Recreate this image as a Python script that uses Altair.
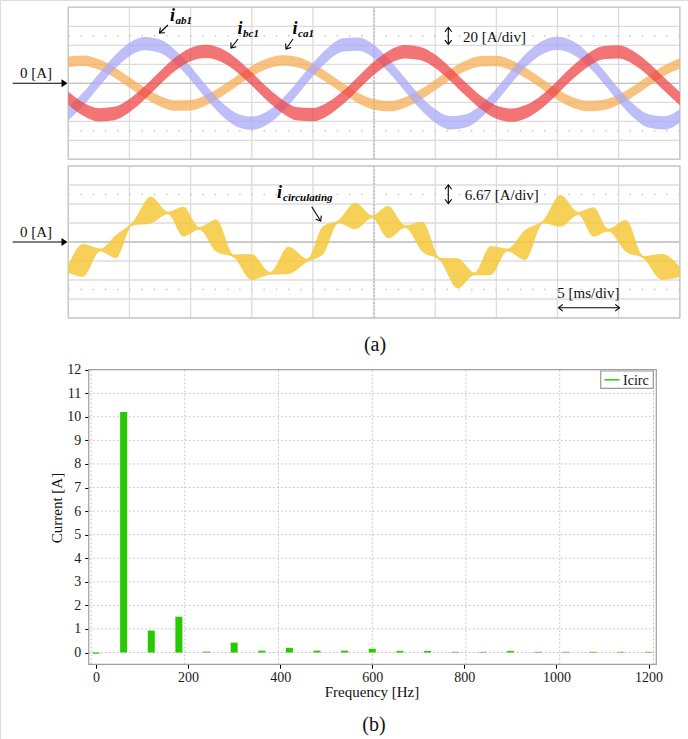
import altair as alt
import pandas as pd

# ---------------- (a) upper scope trace : 5 ms/div, 20 A/div ----------------
t_phase = [0, 1.25, 2.5, 3.75, 5, 6.25, 7.5, 8.75, 10, 11.25, 12.5, 13.75, 15, 16.25,
           17.5, 18.75, 20, 21.25, 22.5, 23.75, 25, 26.25, 27.5, 28.75, 30, 31.25, 32.5,
           33.75, 35, 36.25, 37.5, 38.75, 40, 41.25, 42.5, 43.75, 45, 46.25, 47.5, 48.75, 50]
i_ab1 = [-32, -16.2, 3, 21.6, 35.6, 41.8, 39, 27.8, 10.8, -8.8, -26.4, -38.4, -42, -36.6,
         -23.2, -5, 14.4, 30.8, 40.4, 41.2, 33.2, 17.8, -1, -19.8, -34.4, -41.6, -39.6,
         -29.2, -12.4, 7.2, 25.2, 37.6, 42, 37.4, 25, 7, -12.6, -29.4, -39.8, -41.6, -34.4]
i_bc1 = [-15.8, -27.4, -33.2, -31.8, -23.4, -9.8, 5.8, 20.2, 30.2, 33.6, 29.6, 19.2, 4.6,
         -11, -24.2, -32.2, -33, -26.8, -14.6, 0.8, 16, 27.6, 33.2, 31.6, 23.2, 9.4, -6.2,
         -20.4, -30.4, -33.6, -29.4, -19, -4.2, 11.4, 24.4, 32.2, 33, 26.6, 14.2, -1.2, -16.2]
i_ca1 = [22.6, 23.8, 19.8, 11.6, 0.8, -10, -18.8, -23.4, -23.2, -17.8, -8.8, 2.2, 12.8,
         20.6, 24, 22.2, 15.4, 5.4, -5.6, -15.8, -22.4, -24, -20.4, -12.4, -1.8, 9.2, 18.4,
         23.2, 23.4, 18.8, 10.2, -0.8, -11.8, -20.2, -23.8, -22.8, -17.2, -8, 3, 13.4, 21]
ripple_ab1 = 7.0   # half width of the switching-ripple band [A]
ripple_bc1 = 7.0
ripple_ca1 = 5.5

# ---------------- (a) lower scope trace : 5 ms/div, 6.67 A/div ----------------
t_circ = [0, 1.2, 2.6, 3.9, 5.25, 6.75, 8.15, 9.4, 10.7, 12.1, 13.55, 15.0, 16.5, 18.0,
          19.55, 20.8, 22.1, 23.45, 24.85, 26.15, 27.55, 28.95, 30.4, 31.85, 33.2, 34.55,
          35.9, 37.35, 38.85, 40.25, 41.7, 42.95, 44.15, 45.6, 47.05, 48.55, 50.0]
i_circ_hi = [-8.1, -0.7, -2.3, 2.5, 6.9, 15.9, 10.7, 12.4, 5.3, 7.9, -4.4, -4.2, -10.5,
             -1.7, -5.8, 5.4, 7.7, 13.8, 9.4, 12.6, 5.9, 7.1, -5.5, -5.7, -10.7, -1.4,
             -2.3, 4.2, 7.7, 16.5, 10.6, 12.2, 4.7, 7.7, -4.9, -4.2, -8.7]
i_circ_lo = [-10.9, -12.2, -3.3, -5.6, 5.8, 6.5, 9.7, 1.9, 4.3, -3.4, -5.5, -13.3, -11.5,
             -11.2, -6.9, -4.5, 6.6, 4.5, 8.3, 1.3, 4.9, -3.4, -6.6, -16.3, -11.7, -11.6,
             -3.3, -6.3, 6.6, 5.4, 9.5, 1.9, 3.7, -3.4, -5.9, -13.3, -12.2]

# scope graticule
scope_t_grid = [0, 5, 10, 15, 20, 25, 30, 35, 40, 45, 50]
top_a_grid = [-80, -60, -40, -20, 0, 20, 40, 60, 80]
bot_a_grid = [-26.68, -20.01, -13.34, -6.67, 0, 6.67, 13.34, 20.01, 26.68]
top_dots = [-50, 50]
bot_dots = [-16.675, 16.675]

# ---------------- (b) spectrum of the circulating current ----------------
freq_hz = [0, 60, 120, 180, 240, 300, 360, 420, 480, 540, 600, 660, 720, 780, 840, 900,
           960, 1020, 1080, 1140, 1200]
icirc_a = [-0.05, 10.2, 0.93, 1.52, 0.04, 0.42, 0.08, 0.2, 0.08, 0.08, 0.16, 0.07, 0.07,
           0.03, 0.03, 0.07, 0.03, 0.03, 0.03, 0.03, 0.03]
freq_ticks = [0, 200, 400, 600, 800, 1000, 1200]
current_ticks = [0, 1, 2, 3, 4, 5, 6, 7, 8, 9, 10, 11, 12]

# ---------------- layout (pixels) ----------------
FONT = "Liberation Serif"
W, H = 688, 739


def sc(domain, rng):
    return alt.Scale(domain=domain, range=rng, nice=False, zero=False)


SX = ([0, 50], [68.3, 679.8])
SY_TOP = ([-80, 80], [159.3, 7.3])
SY_BOT = ([-26.68, 26.68], [318.0, 166.0])
FX = ([-5, 1206], [88.7, 656.3])
FY = ([-0.5, 12], [664.3, 369.7])

layers = []


def scope_panel(ysc, agrid, dots):
    ymin, ymax = ysc[0]
    vg = pd.DataFrame({"t": scope_t_grid, "a0": ymin, "a1": ymax})
    hg = pd.DataFrame({"a": agrid, "t0": 0, "t1": 50})
    dg = pd.DataFrame({"a": dots, "t0": 0, "t1": 50})
    out = []
    out.append(alt.Chart(vg).mark_rule(color="#dcdcdc", strokeWidth=1.3).encode(
        x=alt.X("t:Q", scale=sc(*SX), axis=None),
        y=alt.Y("a0:Q", scale=sc(*ysc), axis=None), y2="a1:Q"))
    out.append(alt.Chart(hg).mark_rule(color="#dcdcdc", strokeWidth=1.3).encode(
        x=alt.X("t0:Q", scale=sc(*SX), axis=None), x2="t1:Q",
        y=alt.Y("a:Q", scale=sc(*ysc), axis=None)))
    out.append(alt.Chart(dg).mark_rule(color="#c8c8c8", strokeWidth=1.5,
                                       strokeDash=[1.5, 10.7]).encode(
        x=alt.X("t0:Q", scale=sc(*SX), axis=None), x2="t1:Q",
        y=alt.Y("a:Q", scale=sc(*ysc), axis=None)))
    zero = pd.DataFrame({"a": [0], "t0": [0], "t1": [50]})
    out.append(alt.Chart(zero).mark_rule(color="#c2c2c2", strokeWidth=1.3).encode(
        x=alt.X("t0:Q", scale=sc(*SX), axis=None), x2="t1:Q",
        y=alt.Y("a:Q", scale=sc(*ysc), axis=None)))
    mid = pd.DataFrame({"t": [25], "a0": [ymin], "a1": [ymax]})
    out.append(alt.Chart(mid).mark_rule(color="#b4b7cc", strokeWidth=1.5,
                                        strokeDash=[2, 1.5]).encode(
        x=alt.X("t:Q", scale=sc(*SX), axis=None),
        y=alt.Y("a0:Q", scale=sc(*ysc), axis=None), y2="a1:Q"))
    frame = pd.DataFrame({"t0": [0], "t1": [50], "a0": [ymin], "a1": [ymax]})
    out.append(alt.Chart(frame).mark_rect(fillOpacity=0, stroke="#cacaca",
                                          strokeWidth=1.5).encode(
        x=alt.X("t0:Q", scale=sc(*SX), axis=None), x2="t1:Q",
        y=alt.Y("a0:Q", scale=sc(*ysc), axis=None), y2="a1:Q"))
    return out


layers += scope_panel(SY_TOP, top_a_grid, top_dots)
layers += scope_panel(SY_BOT, bot_a_grid, bot_dots)

# phase current bands
for vals, rip, col in [(i_ca1, ripple_ca1, "#f5ad55"),
                       (i_ab1, ripple_ab1, "#a8a8f5"),
                       (i_bc1, ripple_bc1, "#ee4646")]:
    d = pd.DataFrame({"t": t_phase, "c": vals})
    d["lo"] = d["c"] - rip
    d["hi"] = d["c"] + rip
    layers.append(alt.Chart(d).mark_area(color=col, opacity=0.75,
                                         interpolate="monotone").encode(
        x=alt.X("t:Q", scale=sc(*SX), axis=None),
        y=alt.Y("lo:Q", scale=sc(*SY_TOP), axis=None), y2="hi:Q"))

# circulating current band
dc = pd.DataFrame({"t": t_circ, "lo": i_circ_lo, "hi": i_circ_hi})
layers.append(alt.Chart(dc).mark_area(color="#f6c93a", opacity=0.85,
                                      interpolate="monotone").encode(
    x=alt.X("t:Q", scale=sc(*SX), axis=None),
    y=alt.Y("lo:Q", scale=sc(*SY_BOT), axis=None), y2="hi:Q"))

# ---------------- spectrum ----------------
fmin, fmax = FX[0]
cmin, cmax = FY[0]
vgs = pd.DataFrame({"f": freq_ticks, "c0": cmin, "c1": cmax})
hgs = pd.DataFrame({"c": current_ticks[:-1], "f0": fmin, "f1": fmax})
layers.append(alt.Chart(vgs).mark_rule(color="#c8c8c8", strokeWidth=1,
                                       strokeDash=[2, 2]).encode(
    x=alt.X("f:Q", scale=sc(*FX), axis=None),
    y=alt.Y("c0:Q", scale=sc(*FY), axis=None), y2="c1:Q"))
layers.append(alt.Chart(hgs).mark_rule(color="#c8c8c8", strokeWidth=1,
                                       strokeDash=[2, 2]).encode(
    x=alt.X("f0:Q", scale=sc(*FX), axis=None), x2="f1:Q",
    y=alt.Y("c:Q", scale=sc(*FY), axis=None)))

spec = pd.DataFrame({"f": freq_hz, "a": icirc_a})
layers.append(alt.Chart(spec).mark_bar(size=7, color="#27c900", orient="vertical").encode(
    x=alt.X("f:Q", scale=sc(*FX),
            axis=alt.Axis(orient="bottom", offset=-(H - 664.3), values=freq_ticks,
                          format="d", grid=False, domain=False, tickColor="black",
                          tickSize=4, tickWidth=1, labelFont=FONT, labelFontSize=14,
                          labelColor="#1a1a1a", labelPadding=2, labelFlush=False,
                          title=None)),
    y=alt.Y("a:Q", scale=sc(*FY), stack=None,
            axis=alt.Axis(orient="left", offset=-88.7, values=current_ticks,
                          format="d", grid=False, domain=False, tickColor="black",
                          tickSize=4, tickWidth=1, labelFont=FONT, labelFontSize=14,
                          labelColor="#1a1a1a", labelPadding=4, labelFlush=False,
                          title=None))))

sframe = pd.DataFrame({"f0": [fmin], "f1": [fmax], "c0": [cmin], "c1": [cmax]})
layers.append(alt.Chart(sframe).mark_rect(fillOpacity=0, stroke="#a0a0a0",
                                          strokeWidth=1.2).encode(
    x=alt.X("f0:Q", scale=sc(*FX), axis=None), x2="f1:Q",
    y=alt.Y("c0:Q", scale=sc(*FY), axis=None), y2="c1:Q"))

# ---------------- annotations (pixel positions) ----------------
def px(**cols):
    return alt.Chart(pd.DataFrame(cols))


PX = dict(scale=None, axis=None)

# legend box
layers.append(px(x=[600.7], x2=[653.3], y=[371.0], y2=[388.3]).mark_rect(
    fill="white", stroke="#9a9a9a", strokeWidth=1.2).encode(
    x=alt.X("x:Q", **PX), x2="x2:Q", y=alt.Y("y:Q", **PX), y2="y2:Q"))
layers.append(px(x=[604.5], x2=[619.5], y=[379.8], y2=[379.8]).mark_rule(
    color="#27c900", strokeWidth=1.5).encode(
    x=alt.X("x:Q", **PX), x2="x2:Q", y=alt.Y("y:Q", **PX), y2="y2:Q"))

# plain rules: "0 [A]" arrows, double arrows, label arrows
rules = px(
    x=[12.7, 12.7, 448.3, 448.3, 559, 168, 238, 293, 311.7],
    x2=[62, 62, 448.3, 448.3, 619, 159.5, 231, 286, 320.7],
    y=[83.3, 242, 28, 185.5, 307.7, 25, 39, 39, 206.7],
    y2=[83.3, 242, 43.8, 203, 307.7, 33, 48, 49, 221],
)
layers.append(rules.mark_rule(color="black", strokeWidth=1.1).encode(
    x=alt.X("x:Q", **PX), x2="x2:Q", y=alt.Y("y:Q", **PX), y2="y2:Q"))

heads = px(x=[64.5, 64.5], y=[83.3, 242])
layers.append(heads.mark_point(shape="M-1,-1.33L1,0L-1,1.33Z", filled=True, size=36,
                               color="black", opacity=1).encode(
    x=alt.X("x:Q", **PX), y=alt.Y("y:Q", **PX)))

chev = px(x=[448.3, 448.3, 448.3, 448.3, 558.5, 619.5, 159.5, 231, 286, 320.7],
          y=[27.5, 44.3, 185, 203.5, 307.7, 307.7, 33, 48, 49, 221],
          ang=[270, 90, 270, 90, 180, 0, 138, 128, 125, 58])
layers.append(chev.mark_point(shape="M-1,-0.8L0,0L-1,0.8", filled=False, size=72,
                              color="black", strokeWidth=1.1, opacity=1).encode(
    x=alt.X("x:Q", **PX), y=alt.Y("y:Q", **PX),
    angle=alt.Angle("ang:Q", scale=None)))

# plain serif texts
tl = px(x=[20, 20, 463, 464.7, 557.3, 623],
        y=[77.5, 236.5, 41.5, 200, 298, 384.5],
        s=[15, 15, 15, 15, 15, 14],
        t=["0 [A]", "0 [A]", "20 [A/div]", "6.67 [A/div]", "5 [ms/div]", "Icirc"])
layers.append(tl.mark_text(align="left", baseline="alphabetic", font=FONT,
                           color="#111").encode(
    x=alt.X("x:Q", **PX), y=alt.Y("y:Q", **PX),
    size=alt.Size("s:Q", scale=None, legend=None), text="t:N"))

tc = px(x=[375, 374, 372],
        y=[351, 731, 697],
        s=[20, 20, 15],
        t=["(a)", "(b)", "Frequency [Hz]"])
layers.append(tc.mark_text(align="center", baseline="alphabetic", font=FONT,
                           color="#111").encode(
    x=alt.X("x:Q", **PX), y=alt.Y("y:Q", **PX),
    size=alt.Size("s:Q", scale=None, legend=None), text="t:N"))

layers.append(px(x=[57], y=[508], t=["Current [A]"]).mark_text(
    align="center", baseline="middle", font=FONT, fontSize=15, angle=270,
    color="#111").encode(x=alt.X("x:Q", **PX), y=alt.Y("y:Q", **PX), text="t:N"))

# current labels: bold italic i with subscript
ii = px(x=[170, 237.5, 292.5, 277], y=[21, 34, 34, 197.5], t=["i", "i", "i", "i"])
layers.append(ii.mark_text(align="left", baseline="alphabetic", font=FONT,
                           fontSize=18, fontWeight="bold", fontStyle="italic",
                           color="black").encode(
    x=alt.X("x:Q", **PX), y=alt.Y("y:Q", **PX), text="t:N"))
subs = px(x=[175.5, 243, 298, 283], y=[23.5, 36.5, 36.5, 200.5],
          t=["ab1", "bc1", "ca1", "circulating"])
layers.append(subs.mark_text(align="left", baseline="alphabetic", font=FONT,
                             fontSize=11, fontWeight="bold", fontStyle="italic",
                             color="black").encode(
    x=alt.X("x:Q", **PX), y=alt.Y("y:Q", **PX), text="t:N"))

chart = alt.layer(*layers).resolve_scale(
    x="independent", y="independent", size="independent", angle="independent"
).properties(
    width=W, height=H, autosize=alt.AutoSizeParams(type="none"), padding=0
).configure_view(strokeWidth=0).configure(background="white")

chart.save("out.html", embed_options={"renderer": "svg", "actions": False})
